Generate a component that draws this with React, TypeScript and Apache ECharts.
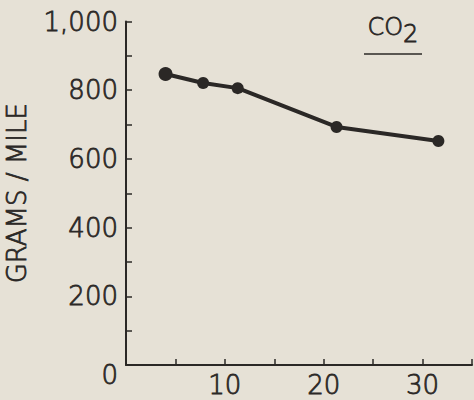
import React, { useEffect, useRef } from "react";
import * as echarts from "echarts";

const speeds = [4.0, 7.8, 11.3, 21.3, 31.6];
const gramsPerMile = [847, 821, 806, 693, 652];
const yTickLabels: Record<number, string> = { 0: "0", 200: "200", 400: "400", 600: "600", 800: "800", 1000: "1,000" };
const xTickLabels: Record<number, string> = { 10: "10", 20: "20", 30: "30" };
const yAxisTitle = "GRAMS / MILE";
const seriesTitle = "CO";

const INK = "#2b2826";
const FONT = "DejaVu Sans";
const FS = 26;
const txt = { color: INK, fontFamily: FONT, fontWeight: 200, textBorderColor: INK, textBorderWidth: 0.8 };
const gtxt = { fill: INK, fontFamily: FONT, fontWeight: 200, stroke: INK, lineWidth: 0.8, fontSize: 24 };

export default function App() {
  const ref = useRef<HTMLDivElement>(null);
  useEffect(() => {
    const chart = echarts.init(ref.current!, null, { renderer: "svg" });
    chart.setOption({
      animation: false,
      backgroundColor: "#e6e1d6",
      grid: { left: 126, right: 2, top: 21.5, bottom: 35, containLabel: false, outerBoundsMode: "none" },
      xAxis: {
        type: "value",
        min: 0,
        max: 35,
        interval: 5,
        splitLine: { show: false },
        axisLine: { lineStyle: { color: INK, width: 2 } },
        axisTick: { inside: true, length: 6, lineStyle: { color: INK, width: 1.5 } },
        axisLabel: {
          margin: 7,
          ...txt,
          fontSize: FS,
          formatter: (v: number) => xTickLabels[v] ?? "",
        },
      },
      yAxis: {
        type: "value",
        min: 0,
        max: 1000,
        interval: 100,
        splitLine: { show: false },
        name: yAxisTitle,
        nameLocation: "middle",
        nameGap: 96,
        nameTextStyle: { ...txt, fontSize: 26 },
        axisLine: { lineStyle: { color: INK, width: 2 } },
        axisTick: { inside: true, length: 6, lineStyle: { color: INK, width: 1.5 } },
        axisLabel: {
          margin: 8,
          ...txt,
          fontSize: FS,
          formatter: (v: number) => {
            const s = yTickLabels[v];
            if (s === undefined) return "";
            return v === 0 ? "{z|" + s + "}" : s;
          },
          rich: {
            z: { ...txt, fontSize: FS, padding: [20, 0, 0, 0] },
          },
        },
      },
      series: [
        {
          type: "line",
          data: speeds.map((s, i) => [s, gramsPerMile[i]]),
          symbol: "circle",
          symbolSize: (_v: any, p: any) => (p.dataIndex === 0 ? 14 : 12),
          lineStyle: { color: INK, width: 4 },
          itemStyle: { color: INK },
        },
      ],
      graphic: [
        {
          type: "text",
          left: 367,
          top: 15,
          style: {
            text: "{a|" + seriesTitle + "}{b|2}",
            rich: {
              a: { ...gtxt },
              b: { ...gtxt, padding: [13, 0, 0, 0] },
            },
          },
        },
        {
          type: "line",
          shape: { x1: 364, y1: 54, x2: 422, y2: 54 },
          style: { stroke: INK, lineWidth: 1.5 },
        },
      ],
    });
    return () => chart.dispose();
  }, []);
  return <div ref={ref} style={{ width: 474, height: 400, position: "absolute", left: 0, top: 0 }} />;
}
